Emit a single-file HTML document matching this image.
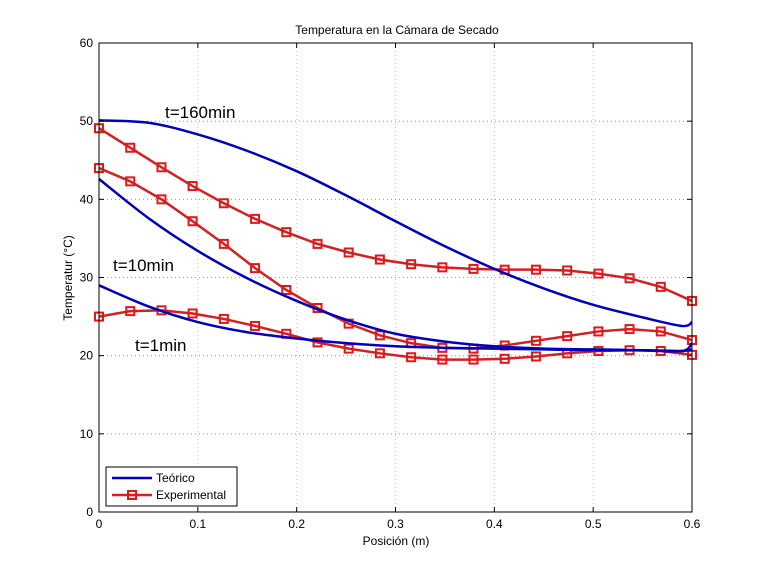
<!DOCTYPE html>
<html><head><meta charset="utf-8"><style>
body{margin:0;background:#fff;}
svg{display:block;font-family:"Liberation Sans",sans-serif;}
</style></head><body>
<svg id="chart" width="767" height="576">
<rect width="767" height="576" fill="#fff"/>
<g id="grid"></g>
<g id="series"></g>
<rect x="99" y="43" width="593" height="469" fill="none" stroke="#000" stroke-width="1"/>
<g id="ticks"></g>
<text x="397" y="34" font-size="12" text-anchor="middle">Temperatura en la Cámara de Secado</text>
<text x="396" y="545" font-size="12" text-anchor="middle">Posición (m)</text>
<text transform="translate(72,278) rotate(-90)" font-size="12" text-anchor="middle">Temperatur (°C)</text>
<text x="165" y="118" font-size="17">t=160min</text>
<text x="113" y="271" font-size="17">t=10min</text>
<text x="135" y="351" font-size="17">t=1min</text>
<g>
<rect x="106" y="467" width="131" height="39" fill="#fff" stroke="#000" stroke-width="1"/>
<line x1="112" y1="478" x2="152" y2="478" stroke="#0000c0" stroke-width="2.5"/>
<text x="156" y="482" font-size="12">Teórico</text>
<line x1="112" y1="495" x2="152" y2="495" stroke="#d42020" stroke-width="2.5"/>
<rect x="128" y="491" width="8" height="8" fill="none" stroke="#e01818" stroke-width="2"/>
<text x="156" y="499" font-size="12">Experimental</text>
</g>
</svg>
<script>
const xTicks=[0,0.1,0.2,0.3,0.4,0.5,0.6];
const xTickLabels=["0","0.1","0.2","0.3","0.4","0.5","0.6"];
const yTicks=[0,10,20,30,40,50,60];
const yTickLabels=["0","10","20","30","40","50","60"];
const theoX=[0,0.05,0.1,0.15,0.2,0.25,0.3,0.35,0.4,0.45,0.5,0.55,0.59,0.6];
const theoT160=[50.1,49.8,48.3,46.2,43.6,40.5,37.2,34.0,31.1,28.6,26.5,24.9,23.8,24.3];
const theoT10=[42.6,37.6,33.4,29.9,27.0,24.6,22.8,21.8,21.2,20.9,20.8,20.7,20.6,21.6];
const theoT1=[29.0,26.3,24.3,23.0,22.2,21.6,21.2,21.0,20.9,20.8,20.7,20.7,20.6,20.8];
const expX=[0,0.0316,0.0632,0.0947,0.1263,0.1579,0.1895,0.2211,0.2526,0.2842,0.3158,0.3474,0.3789,0.4105,0.4421,0.4737,0.5053,0.5368,0.5684,0.6];
const expT160=[49.1,46.6,44.1,41.7,39.5,37.5,35.8,34.3,33.2,32.3,31.7,31.3,31.1,31.0,31.0,30.9,30.5,29.9,28.8,27.0];
const expT10=[44.0,42.3,40.0,37.2,34.3,31.2,28.4,26.1,24.1,22.6,21.6,21.0,20.9,21.3,21.9,22.5,23.1,23.4,23.1,22.0];
const expT1=[25.0,25.7,25.8,25.4,24.7,23.8,22.8,21.7,20.9,20.3,19.8,19.5,19.5,19.6,19.9,20.3,20.6,20.7,20.6,20.1];

const X0=99,X1=692,Y0=512,Y1=43;
const sx=v=>X0+(v-0)/(0.6-0)*(X1-X0);
const sy=v=>Y0-(v-0)/(60-0)*(Y0-Y1);
const NS="http://www.w3.org/2000/svg";
function mk(tag,attrs,parent){const e=document.createElementNS(NS,tag);for(const k in attrs)e.setAttribute(k,attrs[k]);parent.appendChild(e);return e;}
const grid=document.getElementById('grid'),ticks=document.getElementById('ticks'),series=document.getElementById('series');
xTicks.forEach((t,i)=>{
  const x=sx(t);
  if(i>0&&i<xTicks.length-1){const g=mk('line',{x1:x,y1:Y1,x2:x,y2:Y0,stroke:'#bbb','stroke-width':0.8,'stroke-dasharray':'1,3'},grid);
  
  }
  const a=mk('line',{x1:x,y1:Y0,x2:x,y2:Y0-5,stroke:'#000'},ticks);
  
  
  const b=mk('line',{x1:x,y1:Y1,x2:x,y2:Y1+5,stroke:'#000'},ticks);
  
  
  const l=mk('text',{x:x,y:528,'font-size':12,'text-anchor':'middle'},ticks);l.textContent=xTickLabels[i];
  
  
});
yTicks.forEach((t,i)=>{
  const y=sy(t);
  if(i>0&&i<yTicks.length-1){const g=mk('line',{x1:X0,y1:y,x2:X1,y2:y,stroke:'#888','stroke-width':0.8,'stroke-dasharray':'1,3'},grid);
  
  }
  const a=mk('line',{x1:X0,y1:y,x2:X0+5,y2:y,stroke:'#000'},ticks);
  
  
  const b=mk('line',{x1:X1,y1:y,x2:X1-5,y2:y,stroke:'#000'},ticks);
  
  
  const l=mk('text',{x:X0-6,y:y+4,'font-size':12,'text-anchor':'end'},ticks);l.textContent=yTickLabels[i];
  
  
});
function smoothPath(xs,ys){
  const p=xs.map((x,i)=>[sx(x),sy(ys[i])]);
  let d='M'+p[0][0]+','+p[0][1];
  for(let i=0;i<p.length-1;i++){
    const p0=p[Math.max(0,i-1)],p1=p[i],p2=p[i+1],p3=p[Math.min(p.length-1,i+2)];
    const c1=[p1[0]+(p2[0]-p0[0])/6,p1[1]+(p2[1]-p0[1])/6],c2=[p2[0]-(p3[0]-p1[0])/6,p2[1]-(p3[1]-p1[1])/6];
    d+=' C'+c1+' '+c2+' '+p2;
  }
  return d;
}
[[expT160,'experimental-t160'],[expT10,'experimental-t10'],[expT1,'experimental-t1']].forEach(([ys,n])=>{
  const pts=expX.map((x,i)=>sx(x)+','+sy(ys[i])).join(' ');
  const e=mk('polyline',{points:pts,fill:'none',stroke:'#d42020','stroke-width':2.5},series);
  
  
  expX.forEach((x,i)=>{
    const m=mk('rect',{x:sx(x)-4,y:sy(ys[i])-4,width:8,height:8,fill:'none',stroke:'#e01818','stroke-width':2},series);
    
    
  });
});
[[theoT160,'theoretical-t160'],[theoT10,'theoretical-t10'],[theoT1,'theoretical-t1']].forEach(([ys,n])=>{
  const e=mk('path',{d:smoothPath(theoX,ys),fill:'none',stroke:'#0000c0','stroke-width':2.5},series);
  
  
});
</script>
</body></html>
